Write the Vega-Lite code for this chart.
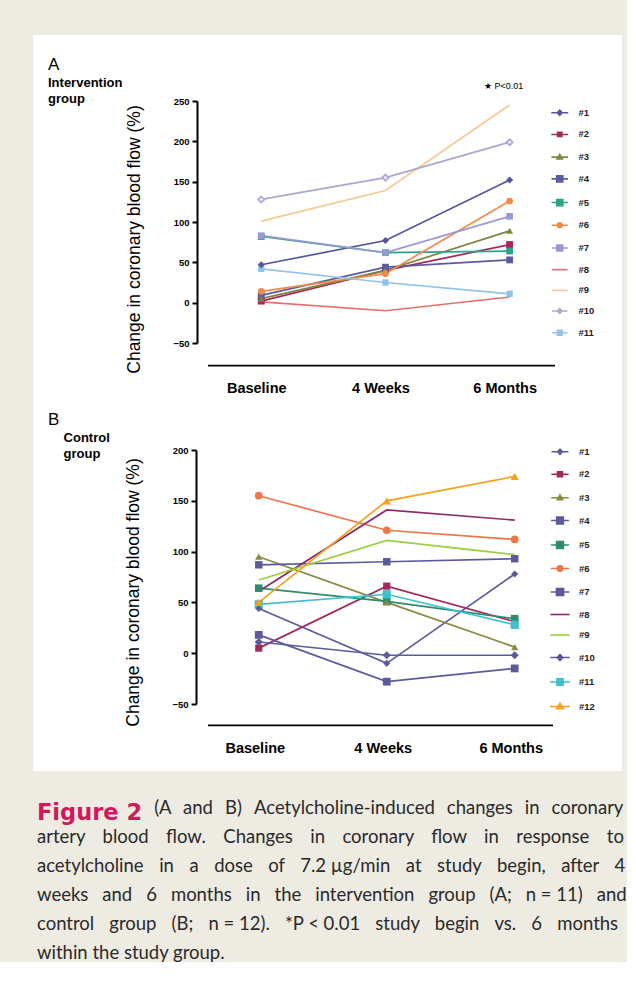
{
  "$schema": "https://vega.github.io/schema/vega-lite/v6.json",
  "background": "#eeebe2",
  "padding": {"left": 33, "top": 35, "right": 0, "bottom": 0},
  "spacing": 0,
  "config": {
    "view": {"stroke": null},
    "font": "Liberation Sans",
    "axis": {"domainColor": "black", "tickColor": "black", "labelColor": "black", "titleColor": "black", "grid": false, "labelFont": "Liberation Sans", "titleFont": "Liberation Sans"}
  },
  "datasets": {
    "A": [
      {"series": "#1", "time": "Baseline", "value": 47}, {"series": "#1", "time": "4 Weeks", "value": 77}, {"series": "#1", "time": "6 Months", "value": 152},
      {"series": "#2", "time": "Baseline", "value": 2}, {"series": "#2", "time": "4 Weeks", "value": 40}, {"series": "#2", "time": "6 Months", "value": 72},
      {"series": "#3", "time": "Baseline", "value": 5}, {"series": "#3", "time": "4 Weeks", "value": 40}, {"series": "#3", "time": "6 Months", "value": 89},
      {"series": "#4", "time": "Baseline", "value": 9}, {"series": "#4", "time": "4 Weeks", "value": 44}, {"series": "#4", "time": "6 Months", "value": 53},
      {"series": "#5", "time": "Baseline", "value": 82}, {"series": "#5", "time": "4 Weeks", "value": 62}, {"series": "#5", "time": "6 Months", "value": 64},
      {"series": "#6", "time": "Baseline", "value": 14}, {"series": "#6", "time": "4 Weeks", "value": 36}, {"series": "#6", "time": "6 Months", "value": 126},
      {"series": "#7", "time": "Baseline", "value": 83}, {"series": "#7", "time": "4 Weeks", "value": 62}, {"series": "#7", "time": "6 Months", "value": 107},
      {"series": "#8", "time": "Baseline", "value": 1}, {"series": "#8", "time": "4 Weeks", "value": -10}, {"series": "#8", "time": "6 Months", "value": 7},
      {"series": "#9", "time": "Baseline", "value": 101}, {"series": "#9", "time": "4 Weeks", "value": 139}, {"series": "#9", "time": "6 Months", "value": 245},
      {"series": "#10", "time": "Baseline", "value": 128}, {"series": "#10", "time": "4 Weeks", "value": 155}, {"series": "#10", "time": "6 Months", "value": 199},
      {"series": "#11", "time": "Baseline", "value": 42}, {"series": "#11", "time": "4 Weeks", "value": 25}, {"series": "#11", "time": "6 Months", "value": 11}
    ],
    "B": [
      {"series": "#1", "time": "Baseline", "value": 44}, {"series": "#1", "time": "4 Weeks", "value": -10}, {"series": "#1", "time": "6 Months", "value": 78},
      {"series": "#2", "time": "Baseline", "value": 5}, {"series": "#2", "time": "4 Weeks", "value": 66}, {"series": "#2", "time": "6 Months", "value": 31},
      {"series": "#3", "time": "Baseline", "value": 95}, {"series": "#3", "time": "4 Weeks", "value": 50}, {"series": "#3", "time": "6 Months", "value": 6},
      {"series": "#4", "time": "Baseline", "value": 87}, {"series": "#4", "time": "4 Weeks", "value": 90}, {"series": "#4", "time": "6 Months", "value": 93},
      {"series": "#5", "time": "Baseline", "value": 64}, {"series": "#5", "time": "4 Weeks", "value": 51}, {"series": "#5", "time": "6 Months", "value": 34},
      {"series": "#6", "time": "Baseline", "value": 155}, {"series": "#6", "time": "4 Weeks", "value": 121}, {"series": "#6", "time": "6 Months", "value": 112},
      {"series": "#7", "time": "Baseline", "value": 18}, {"series": "#7", "time": "4 Weeks", "value": -28}, {"series": "#7", "time": "6 Months", "value": -15},
      {"series": "#8", "time": "Baseline", "value": 61}, {"series": "#8", "time": "4 Weeks", "value": 141}, {"series": "#8", "time": "6 Months", "value": 131},
      {"series": "#9", "time": "Baseline", "value": 72}, {"series": "#9", "time": "4 Weeks", "value": 111}, {"series": "#9", "time": "6 Months", "value": 97},
      {"series": "#10", "time": "Baseline", "value": 11}, {"series": "#10", "time": "4 Weeks", "value": -2}, {"series": "#10", "time": "6 Months", "value": -2},
      {"series": "#11", "time": "Baseline", "value": 48}, {"series": "#11", "time": "4 Weeks", "value": 58}, {"series": "#11", "time": "6 Months", "value": 28},
      {"series": "#12", "time": "Baseline", "value": 50}, {"series": "#12", "time": "4 Weeks", "value": 150}, {"series": "#12", "time": "6 Months", "value": 174}
    ]
  },
  "title": {
    "text": "Figure 2",
    "subtitle": [
      "\u200b\u2003\u2003\u2003\u2003\u2003\u2003\u2003\u2003\u2004(A \u2004\u200aand \u2004\u200aB) \u2004\u200aAcetylcholine-induced \u2004\u200achanges \u2004\u200ain \u2004\u200acoronary",
      "artery \u2002\u2009\u200ablood \u2002\u2009\u200aflow. \u2002\u2009\u200aChanges \u2002\u2009\u200ain \u2002\u2009\u200acoronary \u2002\u2009\u200aflow \u2002\u2009\u200ain \u2002\u2009\u200aresponse \u2002\u2009\u200ato",
      "acetylcholine \u2004\u2005in \u2004\u2005a \u2004\u2005dose \u2004\u2005of \u2004\u20057.2 µg/min \u2004\u2005at \u2004\u2005study \u2004\u2005begin, \u2004\u2005after \u2004\u20054",
      "weeks \u2002and \u20026 \u2002months \u2002in \u2002the \u2002intervention \u2002group \u2002(A; \u2002n = 11) \u2002and",
      "control \u2002\u200agroup \u2002\u200a(B; \u2002\u200an = 12). \u2002\u200a*P < 0.01 \u2002\u200astudy \u2002\u200abegin \u2002\u200avs. \u2002\u200a6 \u2002\u200amonths",
      "within the study group."
    ],
    "orient": "bottom",
    "anchor": "start",
    "frame": "group",
    "offset": 31,
    "dx": 4,
    "font": "DejaVu Sans",
    "fontSize": 22.5,
    "fontWeight": "bold",
    "color": "#d2175a",
    "subtitleFont": "Lato",
    "subtitleFontSize": 18.5,
    "subtitleColor": "#2a2a2a",
    "subtitleLineHeight": 29,
    "subtitlePadding": -26
  },
  "resolve": {
    "scale": {"color": "independent", "shape": "independent", "size": "independent", "stroke": "independent"},
    "legend": {"color": "independent", "shape": "independent", "stroke": "independent"}
  },
  "vconcat": [
    {
      "width": 589,
      "height": 365,
      "view": {"fill": "white", "stroke": null},
      "data": {"name": "A"},
      "title": {
        "text": "A",
        "subtitle": ["Intervention", "group"],
        "anchor": "start",
        "frame": "group",
        "offset": -72,
        "dx": 15,
        "font": "Liberation Sans",
        "fontSize": 17,
        "fontWeight": "normal",
        "color": "black",
        "subtitleFont": "Liberation Sans",
        "subtitleFontSize": 13,
        "subtitleFontWeight": "bold",
        "subtitleColor": "black",
        "subtitleLineHeight": 16,
        "subtitlePadding": 3
      },
      "resolve": {"scale": {"x": "independent"}, "axis": {"x": "independent"}},
      "layer": [
        {
          "encoding": {
            "x": {
              "field": "time", "type": "ordinal",
              "scale": {"type": "point", "domain": ["Baseline", "4 Weeks", "6 Months"], "range": [175, 522], "padding": 0.397, "align": 0.54},
              "axis": {"title": null, "orient": "top", "offset": -363, "domain": false, "ticks": false, "labelPadding": 3, "labelOffset": -5, "labelFontSize": 14.5, "labelFontWeight": "bold", "labelAngle": 0}
            },
            "y": {
              "field": "value", "type": "quantitative",
              "scale": {"domain": [-50, 250], "range": [308, 66], "nice": false, "zero": false},
              "axis": {"title": "Change in coronary blood flow (%)", "offset": -164, "values": [-50, 0, 50, 100, 150, 200, 250], "domainWidth": 2, "tickWidth": 2, "tickSize": 5, "labelPadding": 3, "labelFontSize": 9.5, "labelFontWeight": "bold", "titleFontSize": 17.5, "titleFontWeight": "normal", "titlePadding": 29, "titleY": 204}
            }
          },
          "layer": [
            {
              "mark": {"type": "line", "strokeWidth": 1.7},
              "encoding": {
                "color": {"field": "series", "type": "nominal"},
                "order": {"value": null}
              }
            },
            {
              "transform": [{"filter": {"field": "series", "oneOf": ["#2", "#4", "#5", "#7", "#11"]}}],
              "mark": {"type": "point", "shape": "square", "filled": true, "opacity": 1},
              "encoding": {
                "color": {"field": "series", "type": "nominal"},
                "size": {"field": "series", "type": "nominal", "legend": null, "scale": {"domain": ["#1", "#2", "#3", "#4", "#5", "#6", "#7", "#8", "#9", "#10", "#11"], "range": [50, 40, 60, 110, 100, 80, 120, 10, 10, 55, 70]}}
              }
            },
            {
              "transform": [{"filter": {"field": "series", "oneOf": ["#1"]}}],
              "mark": {"type": "point", "shape": "diamond", "filled": true, "opacity": 1},
              "encoding": {
                "color": {"field": "series", "type": "nominal"},
                "size": {"field": "series", "type": "nominal", "legend": null}
              }
            },
            {
              "transform": [{"filter": {"field": "series", "oneOf": ["#10"]}}],
              "mark": {"type": "point", "shape": "diamond", "filled": false, "fill": "#e9e8f4", "strokeWidth": 1.5, "opacity": 1},
              "encoding": {
                "color": {"field": "series", "type": "nominal"},
                "size": {"field": "series", "type": "nominal", "legend": null}
              }
            },
            {
              "transform": [{"filter": {"field": "series", "oneOf": ["#3"]}}],
              "mark": {"type": "point", "shape": "triangle-up", "filled": true, "opacity": 1},
              "encoding": {
                "color": {"field": "series", "type": "nominal"},
                "size": {"field": "series", "type": "nominal", "legend": null}
              }
            },
            {
              "transform": [{"filter": {"field": "series", "oneOf": ["#6"]}}],
              "mark": {"type": "point", "shape": "circle", "filled": true, "opacity": 1},
              "encoding": {
                "color": {"field": "series", "type": "nominal"},
                "size": {"field": "series", "type": "nominal", "legend": null}
              }
            },
            {
              "transform": [{"filter": "false"}],
              "mark": {"type": "point", "filled": true, "opacity": 1, "strokeWidth": 1.6},
              "encoding": {
                "color": {
                  "field": "series", "type": "nominal",
                  "scale": {"domain": ["#1", "#2", "#3", "#4", "#5", "#6", "#7", "#8", "#9", "#10", "#11"], "range": ["#55569a", "#a8275c", "#7f8540", "#5b5c9e", "#2ba38d", "#f28a48", "#9a99d2", "#ea6c70", "#f9c792", "#aaa7d3", "#91c3ea"]},
                  "legend": {"orient": "none", "legendX": 522, "legendY": 73, "title": null, "symbolStrokeWidth": 1.6, "labelFontSize": 9.5, "labelFontWeight": "bold", "labelFont": "Liberation Sans", "labelColor": "#222", "rowPadding": 9.7, "labelOffset": 14, "symbolOpacity": 1}
                },
                "stroke": {
                  "field": "series", "type": "nominal",
                  "scale": {"domain": ["#1", "#2", "#3", "#4", "#5", "#6", "#7", "#8", "#9", "#10", "#11"], "range": ["#55569a", "#a8275c", "#7f8540", "#5b5c9e", "#2ba38d", "#f28a48", "#9a99d2", "#ea6c70", "#f9c792", "#aaa7d3", "#91c3ea"]},
                  "legend": {"orient": "none", "legendX": 522, "legendY": 73, "title": null}
                },
                "shape": {
                  "field": "series", "type": "nominal",
                  "scale": {"domain": ["#1", "#2", "#3", "#4", "#5", "#6", "#7", "#8", "#9", "#10", "#11"], "range": [
                    "M-2.4,0H2.4M-0.7,0L0,-0.75L0.7,0L0,0.75Z",
                    "M-2.4,0H2.4M-0.6,-0.6H0.6V0.6H-0.6Z",
                    "M-2.4,0H2.4M0,-0.8L0.75,0.5L-0.75,0.5Z",
                    "M-2.4,0H2.4M-0.9,-0.9H0.9V0.9H-0.9Z",
                    "M-2.4,0H2.4M-0.9,-0.9H0.9V0.9H-0.9Z",
                    "M-2.4,0H2.4M-0.7,0A0.7,0.7,0,1,1,0.7,0A0.7,0.7,0,1,1,-0.7,0Z",
                    "M-2.4,0H2.4M-0.9,-0.9H0.9V0.9H-0.9Z",
                    "M-2.4,0H2.4",
                    "M-2.4,0H2.4",
                    "M-2.4,0H2.4M-0.7,0L0,-0.75L0.7,0L0,0.75Z",
                    "M-2.4,0H2.4M-0.75,-0.75H0.75V0.75H-0.75Z"
                  ]},
                  "legend": {"orient": "none", "legendX": 522, "legendY": 73, "title": null}
                }
              }
            },
            {
              "data": {"values": [{"label": "★ P<0.01", "time": "6 Months", "value": 268}]},
              "mark": {"type": "text", "fontSize": 9, "font": "Liberation Sans", "color": "black", "align": "center", "dx": -6},
              "encoding": {
                "text": {"field": "label"},
                "x": {"field": "time", "type": "ordinal"},
                "y": {"field": "value", "type": "quantitative"}
              }
            }
          ]
        },
        {
          "data": {"values": [{"start": 0, "end": 1, "level": -78}]},
          "mark": {"type": "rule", "color": "black", "strokeWidth": 1.6},
          "encoding": {
            "x": {"field": "start", "type": "quantitative", "scale": {"domain": [0, 1], "range": [175, 522]}, "axis": null},
            "x2": {"field": "end"},
            "y": {"field": "level", "type": "quantitative"}
          }
        }
      ]
    },
    {
      "width": 589,
      "height": 371,
      "view": {"fill": "white", "stroke": null},
      "data": {"name": "B"},
      "title": {
        "text": "B",
        "subtitle": ["\u200b\u2002\u2002\u2009Control", "\u200b\u2002\u2002\u2009group"],
        "anchor": "start",
        "frame": "group",
        "offset": -62,
        "dx": 15,
        "font": "Liberation Sans",
        "fontSize": 17,
        "fontWeight": "normal",
        "color": "black",
        "subtitleFont": "Liberation Sans",
        "subtitleFontSize": 13,
        "subtitleFontWeight": "bold",
        "subtitleColor": "black",
        "subtitleLineHeight": 16,
        "subtitlePadding": 3
      },
      "resolve": {"scale": {"x": "independent"}, "axis": {"x": "independent"}},
      "layer": [
        {
          "encoding": {
            "x": {
              "field": "time", "type": "ordinal",
              "scale": {"type": "point", "domain": ["Baseline", "4 Weeks", "6 Months"], "range": [175, 520], "padding": 0.348, "align": 0.57},
              "axis": {"title": null, "orient": "top", "offset": -358, "domain": false, "ticks": false, "labelPadding": 3, "labelOffset": -4, "labelFontSize": 14.5, "labelFontWeight": "bold", "labelAngle": 0}
            },
            "y": {
              "field": "value", "type": "quantitative",
              "scale": {"domain": [-50, 200], "range": [304, 50], "nice": false, "zero": false},
              "axis": {"title": "Change in coronary blood flow (%)", "offset": -163, "values": [-50, 0, 50, 100, 150, 200], "domainWidth": 2, "tickWidth": 2, "tickSize": 5, "labelPadding": 3, "labelFontSize": 9.5, "labelFontWeight": "bold", "titleFontSize": 17.5, "titleFontWeight": "normal", "titlePadding": 29, "titleY": 192}
            }
          },
          "layer": [
            {
              "mark": {"type": "line", "strokeWidth": 1.7},
              "encoding": {
                "color": {"field": "series", "type": "nominal"},
                "order": {"value": null}
              }
            },
            {
              "transform": [{"filter": {"field": "series", "oneOf": ["#2", "#4", "#5", "#7", "#11"]}}],
              "mark": {"type": "point", "shape": "square", "filled": true, "opacity": 1},
              "encoding": {
                "color": {"field": "series", "type": "nominal"},
                "size": {"field": "series", "type": "nominal", "legend": null, "scale": {"domain": ["#1", "#2", "#3", "#4", "#5", "#6", "#7", "#8", "#9", "#10", "#11", "#12"], "range": [50, 70, 70, 140, 110, 90, 140, 10, 10, 50, 100, 70]}}
              }
            },
            {
              "transform": [{"filter": {"field": "series", "oneOf": ["#1", "#10"]}}],
              "mark": {"type": "point", "shape": "diamond", "filled": true, "opacity": 1},
              "encoding": {
                "color": {"field": "series", "type": "nominal"},
                "size": {"field": "series", "type": "nominal", "legend": null}
              }
            },
            {
              "transform": [{"filter": {"field": "series", "oneOf": ["#3", "#12"]}}],
              "mark": {"type": "point", "shape": "triangle-up", "filled": true, "opacity": 1},
              "encoding": {
                "color": {"field": "series", "type": "nominal"},
                "size": {"field": "series", "type": "nominal", "legend": null}
              }
            },
            {
              "transform": [{"filter": {"field": "series", "oneOf": ["#6"]}}],
              "mark": {"type": "point", "shape": "circle", "filled": true, "opacity": 1},
              "encoding": {
                "color": {"field": "series", "type": "nominal"},
                "size": {"field": "series", "type": "nominal", "legend": null}
              }
            },
            {
              "transform": [{"filter": "false"}],
              "mark": {"type": "point", "filled": true, "opacity": 1, "strokeWidth": 1.6},
              "encoding": {
                "color": {
                  "field": "series", "type": "nominal",
                  "scale": {"domain": ["#1", "#2", "#3", "#4", "#5", "#6", "#7", "#8", "#9", "#10", "#11", "#12"], "range": ["#5b5b9c", "#a3285c", "#8a8a45", "#5b5b9c", "#2e8b6f", "#ef7548", "#5b5b9c", "#8c2b6b", "#9bd03c", "#5b5b9c", "#40bfcc", "#f6a21f"]},
                  "legend": {"orient": "none", "legendX": 522, "legendY": 47, "title": null, "symbolStrokeWidth": 1.6, "labelFontSize": 9.5, "labelFontWeight": "bold", "labelFont": "Liberation Sans", "labelColor": "#222", "rowPadding": 10.5, "labelOffset": 14, "symbolOpacity": 1}
                },
                "stroke": {
                  "field": "series", "type": "nominal",
                  "scale": {"domain": ["#1", "#2", "#3", "#4", "#5", "#6", "#7", "#8", "#9", "#10", "#11", "#12"], "range": ["#5b5b9c", "#a3285c", "#8a8a45", "#5b5b9c", "#2e8b6f", "#ef7548", "#5b5b9c", "#8c2b6b", "#9bd03c", "#5b5b9c", "#40bfcc", "#f6a21f"]},
                  "legend": {"orient": "none", "legendX": 522, "legendY": 47, "title": null}
                },
                "shape": {
                  "field": "series", "type": "nominal",
                  "scale": {"domain": ["#1", "#2", "#3", "#4", "#5", "#6", "#7", "#8", "#9", "#10", "#11", "#12"], "range": [
                    "M-2.4,0H2.4M-0.7,0L0,-0.75L0.7,0L0,0.75Z",
                    "M-2.4,0H2.4M-0.7,-0.7H0.7V0.7H-0.7Z",
                    "M-2.4,0H2.4M0,-0.8L0.75,0.5L-0.75,0.5Z",
                    "M-2.4,0H2.4M-0.9,-0.9H0.9V0.9H-0.9Z",
                    "M-2.4,0H2.4M-0.9,-0.9H0.9V0.9H-0.9Z",
                    "M-2.4,0H2.4M-0.7,0A0.7,0.7,0,1,1,0.7,0A0.7,0.7,0,1,1,-0.7,0Z",
                    "M-2.4,0H2.4M-0.9,-0.9H0.9V0.9H-0.9Z",
                    "M-2.4,0H2.4",
                    "M-2.4,0H2.4",
                    "M-2.4,0H2.4M-0.7,0L0,-0.75L0.7,0L0,0.75Z",
                    "M-2.4,0H2.4M-0.75,-0.75H0.75V0.75H-0.75Z",
                    "M-2.4,0H2.4M0,-0.8L0.75,0.5L-0.75,0.5Z"
                  ]},
                  "legend": {"orient": "none", "legendX": 522, "legendY": 47, "title": null}
                }
              }
            }
          ]
        },
        {
          "data": {"values": [{"start": 0, "end": 1, "level": -71}]},
          "mark": {"type": "rule", "color": "black", "strokeWidth": 1.6},
          "encoding": {
            "x": {"field": "start", "type": "quantitative", "scale": {"domain": [0, 1], "range": [175, 520]}, "axis": null},
            "x2": {"field": "end"},
            "y": {"field": "level", "type": "quantitative"}
          }
        }
      ]
    }
  ]
}
